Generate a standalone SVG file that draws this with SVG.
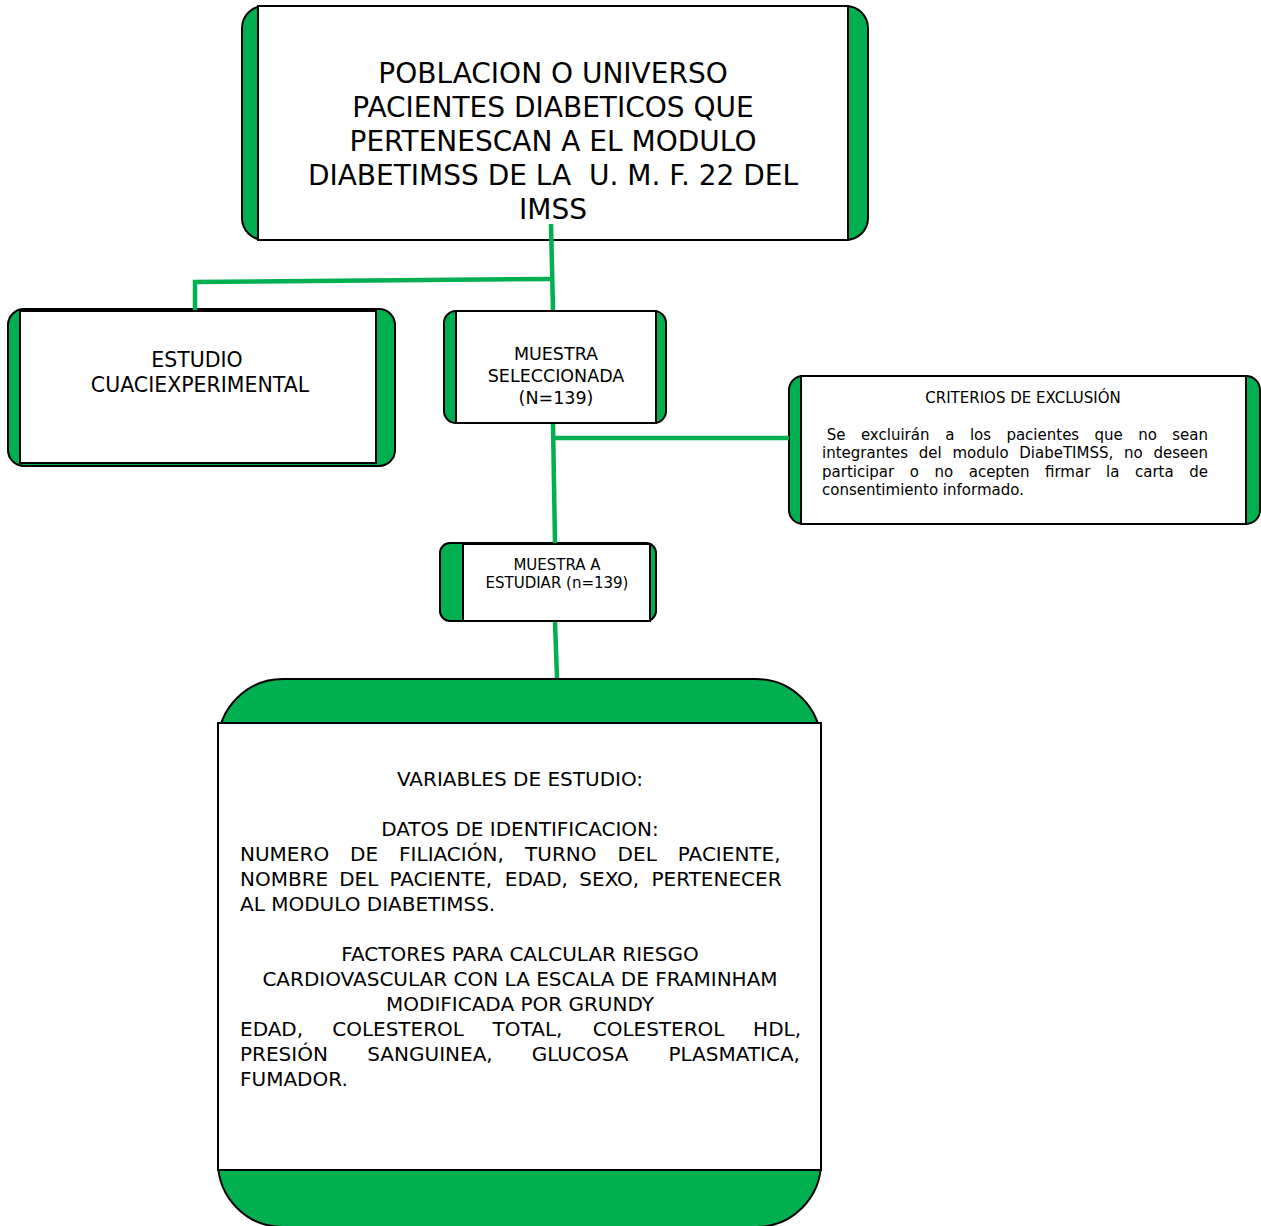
<svg xmlns="http://www.w3.org/2000/svg" width="1261" height="1226" viewBox="0 0 1261 1226">
<style>
.g{fill:#00B050;stroke:#000;stroke-width:2}
.w{fill:#fff;stroke:#000;stroke-width:2}
.c{fill:none;stroke:#00B050;stroke-width:4.5}
text{font-family:"DejaVu Sans","Open Sans",sans-serif;fill:#000}
.t1{font-size:28px;text-anchor:middle;white-space:pre}
.t2{font-size:20.5px;text-anchor:middle}
.t3{font-size:17.5px;text-anchor:middle}
.t4{font-size:15px}
.t5{font-size:20px}
.m{text-anchor:middle}
</style>
<rect width="1261" height="1226" fill="#fff"/>
<g id="poblacion">
<rect class="g" x="242" y="6" width="626" height="234" rx="22"/>
<rect class="w" x="258" y="6" width="590" height="234"/>
<text class="t1" x="553" y="83">POBLACION O UNIVERSO</text>
<text class="t1" x="553" y="117">PACIENTES DIABETICOS QUE</text>
<text class="t1" x="553" y="151">PERTENESCAN A EL MODULO</text>
<text class="t1" x="553" y="185">DIABETIMSS DE LA  U. M. F. 22 DEL</text>
<text class="t1" x="553" y="219">IMSS</text>
</g>
<g id="estudio">
<rect class="g" x="8" y="309" width="387" height="157" rx="16"/>
<rect class="w" x="20" y="311" width="356" height="152"/>
<text class="t2" x="197" y="367">ESTUDIO</text>
<text class="t2" x="200" y="392">CUACIEXPERIMENTAL</text>
</g>
<g id="muestra-seleccionada">
<rect class="g" x="444" y="311" width="222" height="112" rx="12"/>
<rect class="w" x="456" y="311" width="200" height="112"/>
<text class="t3" x="556" y="360">MUESTRA</text>
<text class="t3" x="556" y="382">SELECCIONADA</text>
<text class="t3" x="556" y="404">(N=139)</text>
</g>
<g id="criterios">
<rect class="g" x="789" y="376" width="471" height="148" rx="14"/>
<rect class="w" x="801" y="376" width="445" height="148"/>
<text class="t4 m" x="1023" y="403">CRITERIOS DE EXCLUSIÓN</text>
<text class="t4" y="440"><tspan x="826.8">Se</tspan><tspan x="860.9">excluirán</tspan><tspan x="945.3">a</tspan><tspan x="969.9">los</tspan><tspan x="1006.4">pacientes</tspan><tspan x="1094.6">que</tspan><tspan x="1138.2">no</tspan><tspan x="1172.3">sean</tspan></text>
<text class="t4" y="458"><tspan x="822">integrantes</tspan><tspan x="918.8">del</tspan><tspan x="952.4">modulo</tspan><tspan x="1019.3">DiabeTIMSS,</tspan><tspan x="1124">no</tspan><tspan x="1153.4">deseen</tspan></text>
<text class="t4" y="477"><tspan x="822">participar</tspan><tspan x="909.8">o</tspan><tspan x="934.5">no</tspan><tspan x="968.7">acepten</tspan><tspan x="1045">firmar</tspan><tspan x="1106.1">la</tspan><tspan x="1135">carta</tspan><tspan x="1189.2">de</tspan></text>
<text class="t4" x="822" y="495">consentimiento informado.</text>
</g>
<g id="muestra-estudiar">
<rect class="g" x="440" y="543" width="216" height="78" rx="10"/>
<rect class="w" x="463" y="544" width="187" height="77"/>
<text class="t4 m" x="557" y="570">MUESTRA A</text>
<text class="t4 m" x="557" y="588">ESTUDIAR (n=139)</text>
</g>
<g id="variables">
<rect class="g" x="218" y="679" width="603" height="548" rx="65"/>
<rect class="w" x="218" y="723" width="603" height="447"/>
<text class="t5 m" x="520" y="786">VARIABLES DE ESTUDIO:</text>
<text class="t5 m" x="520" y="836">DATOS DE IDENTIFICACION:</text>
<text class="t5" y="861"><tspan x="240">NUMERO</tspan><tspan x="350.1">DE</tspan><tspan x="399.1">FILIACIÓN,</tspan><tspan x="525.1">TURNO</tspan><tspan x="617.6">DEL</tspan><tspan x="677.8">PACIENTE,</tspan></text>
<text class="t5" y="886"><tspan x="240">NOMBRE</tspan><tspan x="339.2">DEL</tspan><tspan x="389.4">PACIENTE,</tspan><tspan x="504.8">EDAD,</tspan><tspan x="579.3">SEXO,</tspan><tspan x="651.5">PERTENECER</tspan></text>
<text class="t5" x="240" y="911">AL MODULO DIABETIMSS.</text>
<text class="t5 m" x="520" y="961">FACTORES PARA CALCULAR RIESGO</text>
<text class="t5 m" x="520" y="986">CARDIOVASCULAR CON LA ESCALA DE FRAMINHAM</text>
<text class="t5 m" x="520" y="1011">MODIFICADA POR GRUNDY</text>
<text class="t5" y="1036"><tspan x="240">EDAD,</tspan><tspan x="332.2">COLESTEROL</tspan><tspan x="492.6">TOTAL,</tspan><tspan x="592.7">COLESTEROL</tspan><tspan x="753.1">HDL,</tspan></text>
<text class="t5" y="1061"><tspan x="240">PRESIÓN</tspan><tspan x="367.3">SANGUINEA,</tspan><tspan x="531.7">GLUCOSA</tspan><tspan x="668.4">PLASMATICA,</tspan></text>
<text class="t5" x="240" y="1086">FUMADOR.</text>
</g>
<g id="connectors">
<path class="c" d="M551 224 L553 310"/>
<path class="c" d="M195 310 L195 282 L551 279"/>
<path class="c" d="M553 424 L555 543"/>
<path class="c" d="M553 438 L789 438"/>
<path class="c" d="M555 622 L557 678"/>
</g>
</svg>
